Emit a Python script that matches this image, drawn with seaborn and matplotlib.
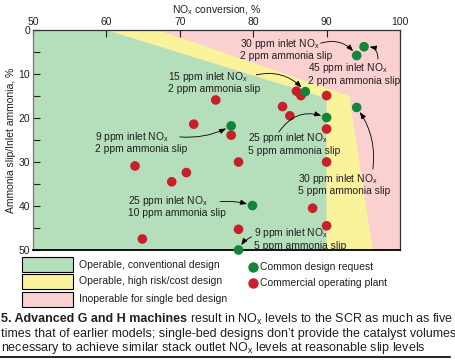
import numpy as np
import pandas as pd
import seaborn as sns
import matplotlib.pyplot as plt
from matplotlib.patches import Polygon, Rectangle
from matplotlib.lines import Line2D

plt.rcParams['font.family'] = ['Liberation Sans', 'DejaVu Sans']
plt.rcParams['mathtext.default'] = 'regular'

# Datos
red_x = [63.9, 68.9, 64.9, 74.9, 71.9, 77.0, 78.0, 70.9, 85.9, 86.5, 90.0, 84.0,
         85.0, 90.0, 90.0, 88.1, 78.0, 90.0]
red_y = [30.9, 34.5, 47.5, 15.9, 21.4, 23.9, 30.0, 32.4, 13.9, 14.9, 14.9, 17.4,
         19.5, 22.5, 30.0, 40.5, 45.3, 44.5]
green_x = [95.1, 94.1, 87.1, 77.0, 90.0, 94.1, 79.9, 78.0]
green_y = [3.8, 5.8, 14.0, 21.8, 19.9, 17.6, 39.9, 50.0]

# Zonas de operación (vértices)
green_zone = [(50, 0), (60, 0), (90, 15.5), (90, 50), (50, 50)]
yellow_zone = [(60, 0), (67, 0), (93.1, 15.0), (96.3, 50), (90, 50), (90, 15.5)]

x_ticks = [50, 60, 70, 80, 90, 100]
y_ticks = [0, 10, 20, 30, 40, 50]

# Etiquetas: texto, posición del texto, inicio flecha, punto destino, curvatura
notas = [
    ("30 ppm inlet NO$_x$\n2 ppm ammonia slip", (78.2, 4.3), (89.2, 3.0), (94.1, 5.8), -0.35),
    ("45 ppm inlet NO$_x$\n2 ppm ammonia slip", (87.5, 9.9), (97.0, 6.6), (95.1, 3.8), 0.55),
    ("15 ppm inlet NO$_x$\n2 ppm ammonia slip", (68.4, 11.8), (80.4, 10.2), (87.1, 14.0), -0.3),
    ("9 ppm inlet NO$_x$\n2 ppm ammonia slip", (58.4, 25.5), (70.0, 24.3), (77.0, 21.8), 0.15),
    ("25 ppm inlet NO$_x$\n5 ppm ammonia slip", (79.3, 25.8), (83.5, 23.2), (90.0, 19.9), -0.4),
    ("30 ppm inlet NO$_x$\n5 ppm ammonia slip", (86.1, 35.0), (96.3, 31.6), (94.1, 17.6), 0.2),
    ("25 ppm inlet NO$_x$\n10 ppm ammonia slip", (63.0, 40.0), (75.5, 39.0), (79.9, 39.9), -0.1),
    ("9 ppm inlet NO$_x$\n5 ppm ammonia slip", (80.1, 47.4), (79.8, 47.0), (78.0, 50.0), 0.2),
]

c_green_fill = "#b5deba"
c_yellow_fill = "#faf39b"
c_pink_fill = "#fbd0d1"
c_red = "#c8202a"
c_green = "#12843c"
c_text = "#231f20"

df = pd.DataFrame({
    "conv": red_x + green_x,
    "slip": red_y + green_y,
    "tipo": ["Commercial operating plant"] * len(red_x) + ["Common design request"] * len(green_x),
})

fig = plt.figure(figsize=(4.56, 3.6), dpi=100)
ax = fig.add_axes([33/456, 1-250/360, 367/456, 220/360])
ax.set_facecolor(c_pink_fill)
ax.add_patch(Polygon(green_zone, closed=True, facecolor=c_green_fill, edgecolor="none", zorder=0))
ax.add_patch(Polygon(yellow_zone, closed=True, facecolor=c_yellow_fill, edgecolor="none", zorder=0))

sns.scatterplot(data=df, x="conv", y="slip", hue="tipo",
                palette={"Commercial operating plant": c_red, "Common design request": c_green},
                s=48, edgecolor="none", legend=False, ax=ax, zorder=3, clip_on=False)

for texto, pos, ini, fin, rad in notas:
    ax.text(pos[0], pos[1], texto, fontsize=7.4, color=c_text, ha="left", va="center",
            multialignment="left", linespacing=1.05, zorder=4)
    ax.annotate("", xy=fin, xytext=ini,
                arrowprops=dict(arrowstyle="-|>,head_length=0.4,head_width=0.15", color="black",
                                lw=0.6, shrinkA=0, shrinkB=4,
                                connectionstyle=f"arc3,rad={rad}"), zorder=4)

ax.set_xlim(50, 100)
ax.set_ylim(50, 0)
ax.xaxis.tick_top()
ax.xaxis.set_label_position("top")
ax.set_xticks(x_ticks)
ax.set_yticks(y_ticks)
ax.set_yticks([5, 15, 25, 35, 45], minor=True)
ax.tick_params(axis="both", which="both", direction="in", labelsize=7.5, colors=c_text,
               length=5, width=0.8, pad=2)
ax.set_xlabel("NO$_x$ conversion, %", fontsize=7.5, color=c_text, labelpad=3)
ax.set_ylabel("Ammonia slip/Inlet ammonia, %", fontsize=7.5, color=c_text, labelpad=2)
for lado, sp in ax.spines.items():
    sp.set_color("#333333")
    sp.set_linewidth(0.9)
ax.spines["bottom"].set_color("black")
ax.spines["bottom"].set_linewidth(1.3)
ax.spines["left"].set_color("#777777")

# Leyenda manual
W, H = 456, 360
cajas = [(c_green_fill, "Operable, conventional design", 257),
         (c_yellow_fill, "Operable, high risk/cost design", 274),
         (c_pink_fill, "Inoperable for single bed design", 292)]
for color, etiqueta, top in cajas:
    fig.patches.append(Rectangle((22/W, 1-(top+15)/H), 51/W, 15/H, transform=fig.transFigure,
                                 facecolor=color, edgecolor="black", lw=0.8))
    fig.text(79/W, 1-(top+7.5)/H, etiqueta, fontsize=7.5, color=c_text, va="center", ha="left")

for color, etiqueta, yc in [(c_green, "Common design request", 267),
                            (c_red, "Commercial operating plant", 283)]:
    fig.add_artist(Line2D([253/W], [1-yc/H], marker="o", markersize=7.5, color=color,
                          markeredgecolor="none", transform=fig.transFigure))
    fig.text(260/W, 1-yc/H, etiqueta, fontsize=7.5, color=c_text, va="center", ha="left")

# Pie de figura
fs = 9.0
renderer = fig.canvas.get_renderer()
t_bold = fig.text(1/W, 1-319/H, "5. Advanced G and H machines", fontsize=fs, fontweight="bold",
                  color=c_text, va="center", ha="left")
bb = t_bold.get_window_extent(renderer=renderer)
fig.text(bb.x1/fig.dpi/4.56, 1-319/H, " result in NO$_x$ levels to the SCR as much as five",
         fontsize=fs, color=c_text, va="center", ha="left")
fig.text(1/W, 1-334/H, "times that of earlier models; single-bed designs don’t provide the catalyst volumes",
         fontsize=fs, color=c_text, va="center", ha="left")
fig.text(1/W, 1-348/H, "necessary to achieve similar stack outlet NO$_x$ levels at reasonable slip levels",
         fontsize=fs, color=c_text, va="center", ha="left")
fig.add_artist(Line2D([0, 450/W], [1-356.5/H, 1-356.5/H], color="black", lw=1.2,
                      transform=fig.transFigure))

fig.savefig("out.png", dpi=100)
